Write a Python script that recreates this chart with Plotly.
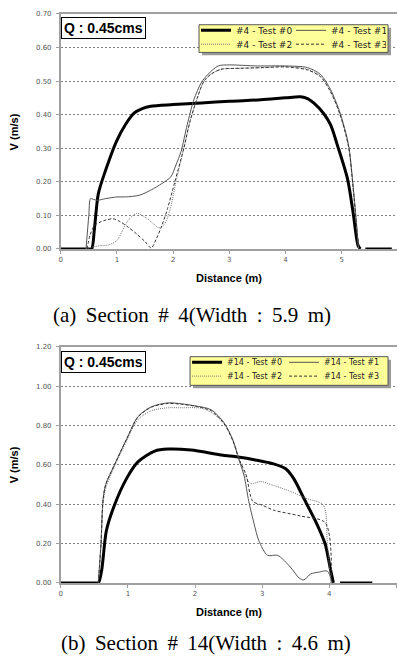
import plotly.graph_objects as go

W, H = 397, 660

# ---------------- DATA ----------------
# Section #4 (top)
s4_t0_x = [0, 0.5, 0.55, 0.6, 0.67, 0.8, 0.99, 1.15, 1.31, 1.45, 1.6, 2.0, 2.5, 3.0, 3.56, 4.0, 4.27, 4.4, 4.5, 4.67, 4.8, 4.92, 5.1, 5.2, 5.29, 5.33, None, 5.42, 5.89]
s4_t0_y = [0, 0, 0, 0.06, 0.165, 0.235, 0.32, 0.37, 0.405, 0.418, 0.425, 0.43, 0.435, 0.44, 0.444, 0.45, 0.453, 0.447, 0.435, 0.405, 0.37, 0.31, 0.21, 0.11, 0.01, 0, None, 0, 0]

s4_t1_x = [0.45, 0.5, 0.53, 0.58, 0.65, 0.8, 1.0, 1.15, 1.4, 1.6, 1.8, 1.96, 2.05, 2.14, 2.25, 2.37, 2.5, 2.62, 2.8, 3.0, 3.5, 4.0, 4.39, 4.62, 4.8, 4.97, 5.12, 5.2, 5.27, 5.3]
s4_t1_y = [0, 0.1, 0.15, 0.148, 0.145, 0.15, 0.155, 0.155, 0.16, 0.175, 0.195, 0.215, 0.25, 0.29, 0.37, 0.445, 0.495, 0.52, 0.545, 0.548, 0.545, 0.545, 0.54, 0.52, 0.475, 0.405, 0.31, 0.19, 0.06, 0]

s4_t2_x = [0.45, 0.55, 0.7, 0.85, 1.0, 1.1, 1.2, 1.35, 1.5, 1.65, 1.75, 1.85, 1.95, 2.05, 2.19, 2.3, 2.44, 2.55, 2.67, 2.85, 3.2, 3.6, 4.0, 4.39, 4.62, 4.8, 4.97, 5.12, 5.2, 5.27, 5.3]
s4_t2_y = [0, 0.005, 0.01, 0.012, 0.025, 0.055, 0.085, 0.106, 0.095, 0.075, 0.063, 0.075, 0.12, 0.2, 0.3, 0.38, 0.455, 0.5, 0.52, 0.535, 0.538, 0.54, 0.543, 0.535, 0.515, 0.47, 0.4, 0.305, 0.185, 0.055, 0]

s4_t3_x = [0.47, 0.52, 0.6, 0.7, 0.8, 0.93, 1.05, 1.2, 1.35, 1.5, 1.61, 1.7, 1.8, 1.9, 2.03, 2.19, 2.3, 2.44, 2.55, 2.67, 2.85, 3.2, 3.6, 4.0, 4.39, 4.62, 4.8, 4.97, 5.12, 5.2, 5.27, 5.3]
s4_t3_y = [0, 0.04, 0.07, 0.08, 0.086, 0.09, 0.082, 0.065, 0.045, 0.022, 0.003, 0.03, 0.07, 0.12, 0.2, 0.3, 0.38, 0.455, 0.5, 0.52, 0.535, 0.538, 0.54, 0.542, 0.533, 0.513, 0.468, 0.4, 0.305, 0.185, 0.055, 0]

# Section #14 (bottom)
s14_t0_x = [0, 0.5, 0.56, 0.61, 0.68, 0.8, 0.98, 1.15, 1.4, 1.6, 1.94, 2.39, 2.64, 2.9, 3.17, 3.35, 3.47, 3.62, 3.82, 3.94, 4.01, 4.06, None, 4.16, 4.64]
s14_t0_y = [0, 0, 0, 0.065, 0.265, 0.395, 0.53, 0.615, 0.67, 0.68, 0.675, 0.65, 0.64, 0.625, 0.605, 0.58, 0.53, 0.43, 0.295, 0.195, 0.08, 0, None, 0, 0]

s14_t1_x = [0.56, 0.6, 0.63, 0.67, 0.8, 0.98, 1.15, 1.35, 1.6, 1.8, 2.0, 2.24, 2.43, 2.56, 2.65, 2.73, 2.8, 2.88, 2.95, 3.08, 3.23, 3.42, 3.55, 3.62, 3.72, 3.85, 3.97, 4.04]
s14_t1_y = [0, 0.2, 0.42, 0.5, 0.6, 0.73, 0.845, 0.895, 0.915, 0.91, 0.9, 0.88, 0.815, 0.73, 0.63, 0.545, 0.415, 0.3, 0.215, 0.14, 0.14, 0.08, 0.025, 0.015, 0.045, 0.055, 0.06, 0]

s14_t2_x = [0.56, 0.6, 0.63, 0.67, 0.8, 0.98, 1.15, 1.35, 1.6, 1.8, 2.09, 2.25, 2.43, 2.57, 2.67, 2.75, 2.83, 2.98, 3.13, 3.42, 3.65, 3.91, 3.97, 4.02]
s14_t2_y = [0, 0.2, 0.4, 0.48, 0.59, 0.72, 0.83, 0.875, 0.89, 0.89, 0.888, 0.865, 0.81, 0.72, 0.62, 0.545, 0.505, 0.515, 0.5, 0.465, 0.43, 0.395, 0.2, 0]

s14_t3_x = [0.56, 0.6, 0.63, 0.67, 0.8, 0.98, 1.15, 1.35, 1.6, 1.8, 2.0, 2.24, 2.43, 2.56, 2.66, 2.76, 2.86, 3.0, 3.17, 3.57, 3.94, 4.03]
s14_t3_y = [0, 0.2, 0.42, 0.5, 0.6, 0.73, 0.843, 0.893, 0.912, 0.908, 0.898, 0.875, 0.81, 0.725, 0.625, 0.55, 0.415, 0.395, 0.37, 0.34, 0.305, 0]

s4_names = ["#4 - Test #0", "#4 - Test #1", "#4 - Test #2", "#4 - Test #3"]
s14_names = ["#14 - Test #0", "#14 - Test #1", "#14 - Test #2", "#14 - Test #3"]

y_ticks_top = [0.0, 0.1, 0.2, 0.3, 0.4, 0.5, 0.6, 0.7]
y_ticks_bot = [0.0, 0.2, 0.4, 0.6, 0.8, 1.0, 1.2]
x_ticks_top = [0, 1, 2, 3, 4, 5, 6]
x_ticks_bot = [0, 1, 2, 3, 4, 5]

sp = " \u2009"
caption_a = sp.join(["(a)", "Section", "#", "4(Width", ":", "5.9", "m)"])
caption_b = sp.join(["(b)", "Section", "#", "14(Width", ":", "4.6", "m)"])
q_label = "Q : 0.45cms"

# ---------------- STYLE ----------------
styles = [
    dict(color="#000000", width=3, dash="solid"),
    dict(color="#555555", width=1, dash="solid"),
    dict(color="#777777", width=1, dash="1px,1px"),
    dict(color="#333333", width=1, dash="3px,2px"),
]

def px_x(p):
    return p / W

def px_y(p):
    return 1 - p / H

fig = go.Figure()

top_series = [(s4_t0_x, s4_t0_y), (s4_t1_x, s4_t1_y), (s4_t2_x, s4_t2_y), (s4_t3_x, s4_t3_y)]
bot_series = [(s14_t0_x, s14_t0_y), (s14_t1_x, s14_t1_y), (s14_t2_x, s14_t2_y), (s14_t3_x, s14_t3_y)]
top_leg = ["legend", "legend", "legend2", "legend2"]
bot_leg = ["legend3", "legend3", "legend4", "legend4"]

for i, (xs, ys) in enumerate(top_series):
    fig.add_trace(go.Scatter(x=xs, y=ys, mode="lines", name=s4_names[i],
                             line=dict(shape="spline", smoothing=0.8, **styles[i]),
                             xaxis="x", yaxis="y", legend=top_leg[i], connectgaps=False))
for i, (xs, ys) in enumerate(bot_series):
    fig.add_trace(go.Scatter(x=xs, y=ys, mode="lines", name=s14_names[i],
                             line=dict(shape="spline", smoothing=0.8, **styles[i]),
                             xaxis="x2", yaxis="y2", legend=bot_leg[i], connectgaps=False))

tickfont = dict(family="DejaVu Sans", size=7, color="#555555")
axis_common = dict(showline=True, linecolor="#a0a0a0", linewidth=1.5, ticks="outside",
                   ticklen=3, tickcolor="#a0a0a0", tickfont=tickfont, zeroline=False)

x0px = 59
top_plot = (10, 248)
bot_plot = (347, 586)
top_xmax = (W - x0px) / 56.5
bot_xmax = (W - x0px) / 67.5

fig.update_layout(
    width=W, height=H, margin=dict(l=0, r=0, t=0, b=0),
    paper_bgcolor="white", plot_bgcolor="white",
    xaxis=dict(domain=[px_x(x0px), 1], range=[0, top_xmax], tickvals=x_ticks_top, anchor="y",
               showgrid=False, mirror=True, **axis_common),
    yaxis=dict(domain=[px_y(top_plot[1]), px_y(top_plot[0])], range=[0, 0.7], tickvals=y_ticks_top,
               tickformat=".2f", anchor="x", showgrid=True, gridcolor="#808080", griddash="2px,2px",
               gridwidth=1, ticklabelstandoff=3, **axis_common),
    xaxis2=dict(domain=[px_x(x0px), 1], range=[0, bot_xmax], tickvals=x_ticks_bot, anchor="y2",
                showgrid=False, mirror=True, **axis_common),
    yaxis2=dict(domain=[px_y(bot_plot[1]), px_y(bot_plot[0])], range=[0, 1.2], tickvals=y_ticks_bot,
                tickformat=".2f", anchor="x2", showgrid=True, gridcolor="#808080", griddash="2px,2px",
                gridwidth=1, ticklabelstandoff=3, **axis_common),
)

def leg(xl, rowc, size, ew):
    return dict(orientation="h", x=px_x(xl), xanchor="left", y=px_y(rowc - 16), yanchor="top",
                bgcolor="rgba(0,0,0,0)", borderwidth=0, entrywidth=ew, entrywidthmode="pixels",
                font=dict(family="DejaVu Sans", size=size, color="#222222"), traceorder="normal",
                itemclick=False)

fig.update_layout(
    legend=leg(195, 28, 9, 50),
    legend2=leg(195, 42, 9, 50),
    legend3=leg(186, 364, 8, 52),
    legend4=leg(186, 378, 8, 52),
)

shapes = []
for (l, t, r, b) in [(198, 21, 388, 49), (189, 357, 388, 386)]:
    shapes.append(dict(type="rect", xref="paper", yref="paper", x0=px_x(l + 3), x1=px_x(r + 3),
                       y0=px_y(b + 3), y1=px_y(t + 3), fillcolor="#9a9a9a", line=dict(width=0), layer="above"))
    shapes.append(dict(type="rect", xref="paper", yref="paper", x0=px_x(l), x1=px_x(r),
                       y0=px_y(b), y1=px_y(t), fillcolor="#FFFF99", line=dict(color="#555555", width=1),
                       layer="above"))
fig.update_layout(shapes=shapes)

ann = []
for top in [13, 351]:
    ann.append(dict(text="<b>" + q_label + "</b>", xref="paper", yref="paper", x=px_x(59), y=px_y(top),
                    xanchor="left", yanchor="top", showarrow=False,
                    font=dict(family="Liberation Sans", size=14, color="#000"),
                    bgcolor="white", bordercolor="#000", borderwidth=1, borderpad=2))
for cy in [129, 466]:
    ann.append(dict(text="<b>V (m/s)</b>", xref="paper", yref="paper", x=px_x(12), y=px_y(cy),
                    xanchor="center", yanchor="middle", textangle=-90, showarrow=False,
                    font=dict(family="Liberation Sans", size=11, color="#000")))
for cy in [277, 615]:
    ann.append(dict(text="<b>Distance (m)</b>", xref="paper", yref="paper", x=px_x(228), y=px_y(cy),
                    xanchor="center", yanchor="middle", showarrow=False,
                    font=dict(family="Liberation Sans", size=11, color="#000")))
ann.append(dict(text=caption_a, xref="paper", yref="paper", x=px_x(191), y=px_y(315),
                xanchor="center", yanchor="middle", showarrow=False,
                font=dict(family="Liberation Serif", size=21, color="#000")))
ann.append(dict(text=caption_b, xref="paper", yref="paper", x=px_x(205), y=px_y(647),
                xanchor="center", yanchor="middle", showarrow=False,
                font=dict(family="Liberation Serif", size=21, color="#000")))
fig.update_layout(annotations=ann)

fig.write_html("out.html")
